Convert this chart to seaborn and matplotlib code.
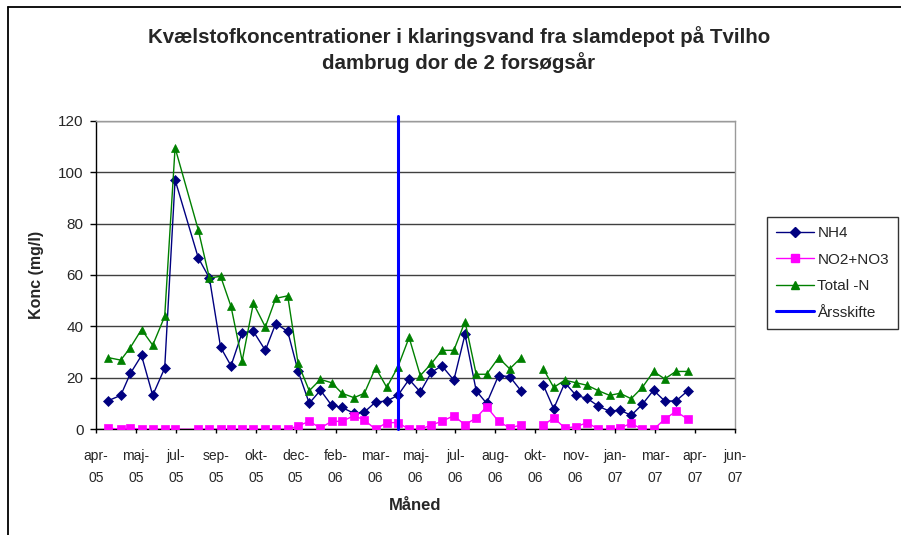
import pandas as pd
import matplotlib
matplotlib.use("Agg")
import matplotlib.pyplot as plt
from matplotlib.lines import Line2D
import seaborn as sns

# Måledatoer (ca. hver 14. dag) - None = manglende prøve
datoer = ["2005-04-23", "2005-05-09", "2005-05-21", "2005-06-04", "2005-06-18", "2005-07-03",
          "2005-07-16", "2005-08-14", "2005-08-28", "2005-09-11", "2005-09-24", "2005-10-08",
          "2005-10-22", "2005-11-06", "2005-11-19", "2005-12-04", "2005-12-17", "2005-12-31",
          "2006-01-14", "2006-01-28", "2006-02-10", "2006-02-25", "2006-03-10", "2006-03-24",
          "2006-04-07", "2006-04-21", "2006-05-05", "2006-05-19", "2006-06-02", "2006-06-15",
          "2006-06-30", "2006-07-14", "2006-07-28", "2006-08-10", "2006-08-25", "2006-09-08",
          "2006-09-22", "2006-10-06", "2006-10-20", "2006-11-02", "2006-11-16", "2006-11-30",
          "2006-12-14", "2006-12-28", "2007-01-11", "2007-01-24", "2007-02-07", "2007-02-21",
          "2007-03-07", "2007-03-21", "2007-04-04", "2007-04-19"]

nh4 = [11.1, 13.2, 21.7, 28.7, 13.2, 23.8, 97.0, 66.7, 58.8, 31.9, 24.7, 37.6, 38.1, 30.7,
       41.1, 38.1, 22.6, 10.1, 15.2, 9.3, 8.5, 6.2, 6.7, 10.6, 11.0, 13.2, 19.4, 14.5, 22.2,
       24.7, 19.1, 36.9, 15.0, 10.1, 20.9, 20.5, 15.0, None, 17.2, 8.0, 18.1, 13.2, 12.0, 9.0,
       7.0, 7.5, 5.4, 9.7, 15.2, 11.0, 11.0, 15.0]

no2_no3 = [0.5, 0.0, 0.5, 0.0, 0.0, 0.0, 0.0, 0.0, 0.0, 0.0, 0.0, 0.0, 0.0, 0.0, 0.0, 0.0,
           1.3, 3.1, 0.5, 3.1, 3.1, 5.3, 3.6, 0.0, 2.6, 2.6, 0.0, 0.0, 1.7, 3.1, 5.3, 1.7,
           4.5, 8.8, 3.1, 0.5, 1.7, None, 1.5, 4.5, 0.5, 1.0, 2.6, 0.0, 0.0, 0.5, 2.3, 0.0,
           0.0, 3.9, 7.0, 3.9]

total_n = [27.9, 26.9, 31.8, 38.8, 32.7, 43.9, 109.5, 77.6, 58.8, 59.5, 47.8, 26.6, 49.0,
           39.8, 50.9, 51.9, 25.6, 15.0, 19.4, 18.1, 14.0, 12.3, 14.0, 24.0, 16.3, 24.3, 35.7,
           20.9, 25.6, 30.7, 30.7, 41.9, 21.4, 21.4, 27.8, 23.5, 27.8, None, 23.5, 16.3, 19.1,
           18.1, 17.1, 15.0, 13.2, 14.0, 11.9, 16.3, 22.5, 19.6, 22.5, 22.5]

aarsskifte_dato = "2006-04-21"
aarsskifte_y = [0, 122]

# akse-inddeling som i Excel (hver 50. dag)
tick_datoer = pd.date_range("2005-04-08", periods=17, freq="50D")
tick_labels = ["apr-\n05", "maj-\n05", "jul-\n05", "sep-\n05", "okt-\n05", "dec-\n05",
               "feb-\n06", "mar-\n06", "maj-\n06", "jul-\n06", "aug-\n06", "okt-\n06",
               "nov-\n06", "jan-\n07", "mar-\n07", "apr-\n07", "jun-\n07"]

serier = ["NH4", "NO2+NO3", "Total -N"]
farver = {"NH4": "#000080", "NO2+NO3": "#FF00FF", "Total -N": "#008000"}
markoerer = {"NH4": "D", "NO2+NO3": "s", "Total -N": "^"}
stoerrelse = {"NH4": 4.6, "NO2+NO3": 5.2, "Total -N": 5.8}

sns.set_theme(style="white")
plt.rcParams["font.family"] = ["Liberation Sans", "DejaVu Sans"]

df = pd.DataFrame({"dato": pd.to_datetime(datoer), "NH4": nh4,
                   "NO2+NO3": no2_no3, "Total -N": total_n})
lang = df.melt(id_vars="dato", var_name="serie", value_name="konc")
lang["konc"] = pd.to_numeric(lang["konc"])
# nyt segment efter hver manglende værdi, så linjen brydes
lang["segment"] = lang.groupby("serie")["konc"].transform(lambda s: s.isna().cumsum())

fig = plt.figure(figsize=(9.01, 5.35), dpi=100)
ax = fig.add_axes([96 / 901, 1 - 429.3 / 535, (735 - 96) / 901, (429.3 - 120.7) / 535])

for s in serier:
    sub = lang[(lang["serie"] == s) & lang["konc"].notna()]
    sns.lineplot(data=sub, x="dato", y="konc", units="segment", estimator=None,
                 color=farver[s], marker=markoerer[s], markersize=stoerrelse[s],
                 markeredgecolor=farver[s], markeredgewidth=0.5, linewidth=1.0,
                 legend=False, ax=ax, zorder=3)

sns.lineplot(x=pd.to_datetime([aarsskifte_dato, aarsskifte_dato]), y=aarsskifte_y,
             estimator=None, sort=False, color="#0000FF", linewidth=2.2,
             clip_on=False, legend=False, ax=ax, zorder=4)

ax.set_xlim(tick_datoer[0], tick_datoer[-1])
ax.set_xticks(tick_datoer)
ax.set_xticklabels(tick_labels, linespacing=1.75)
ax.set_ylim(0, 120)
ax.set_yticks(range(0, 121, 20))

ax.grid(axis="y", color="#404040", linewidth=1.0)
ax.grid(axis="x", visible=False)
ax.set_axisbelow(True)
for side in ["left", "bottom"]:
    ax.spines[side].set_color("black")
    ax.spines[side].set_linewidth(1.0)
for side in ["top", "right"]:
    ax.spines[side].set_color("#9a9a9a")
    ax.spines[side].set_linewidth(1.0)
ax.tick_params(axis="y", direction="out", length=4, width=1, color="black",
               labelsize=11, pad=5, left=True)
ax.tick_params(axis="x", direction="out", length=3, width=1, color="black",
               labelsize=10, pad=11, bottom=True)

ax.set_xlabel("Måned", fontsize=12, fontweight="bold")
ax.xaxis.label.set_va("center")
ax.xaxis.set_label_coords(0.5, -(505 - 429.3) / 308.6)
ax.set_ylabel("Konc (mg/l)", fontsize=11.5, fontweight="bold")
ax.yaxis.label.set_va("center")
ax.yaxis.set_label_coords(-(96 - 37) / 639, 0.5)

fig.text(459 / 901, 1 - 49.5 / 535,
         "Kvælstofkoncentrationer i klaringsvand fra slamdepot på Tvilho\ndambrug dor de 2 forsøgsår",
         ha="center", va="center", fontsize=14.8, fontweight="bold", linespacing=1.3)

handles = [Line2D([], [], color=farver[s], marker=markoerer[s], markersize=stoerrelse[s],
                  markeredgecolor=farver[s], linewidth=1.0) for s in serier]
handles.append(Line2D([], [], color="#0000FF", linewidth=2.2))
leg = ax.legend(handles, serier + ["Årsskifte"], loc="upper left",
                bbox_to_anchor=(767 / 901, 1 - 217 / 535), bbox_transform=fig.transFigure,
                fontsize=11, frameon=True, fancybox=False, edgecolor="black",
                handlelength=2.5, handletextpad=0.2, labelspacing=0.82,
                borderpad=0.6, borderaxespad=0)
leg.get_frame().set_linewidth(1.0)

# ramme om diagramområdet (beskåret i højre og nederste side)
fig.add_artist(Line2D([8 / 901, 8 / 901], [0, 1 - 7 / 535], color="black", linewidth=1.3,
                      transform=fig.transFigure))
fig.add_artist(Line2D([8 / 901, 1], [1 - 7 / 535, 1 - 7 / 535], color="black", linewidth=1.3,
                      transform=fig.transFigure))

fig.savefig("out.png", dpi=100)
